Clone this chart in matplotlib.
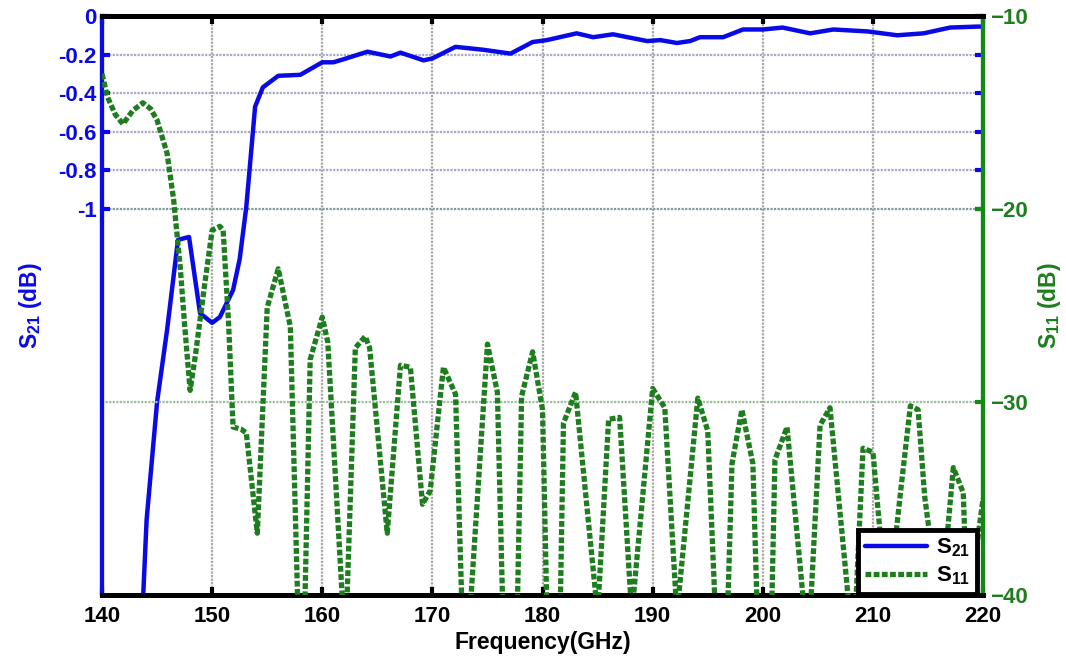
import numpy as np
import matplotlib
matplotlib.use("Agg")
import matplotlib.pyplot as plt
import matplotlib as mpl

# S21 (left axis, dB)
s21_freq = [143.5, 143.75, 144.05, 145.0, 145.9, 146.9, 147.9, 148.9, 150.0, 150.7,
            151.9, 152.5, 153.1, 153.9, 154.6, 156.0, 158.0, 160.0, 161.0, 161.9,
            164.1, 166.2, 167.1, 169.2, 170.0, 172.1, 174.6, 177.1, 179.1, 180.4,
            183.1, 184.6, 186.4, 189.5, 190.7, 192.2, 193.4, 194.3, 196.4, 198.2,
            200.0, 201.8, 204.3, 206.4, 209.5, 212.2, 214.6, 217.0, 219.5, 220.0]
s21_db = [-3.1, -2.99, -2.61, -2.0, -1.63, -1.16, -1.145, -1.54, -1.59, -1.56,
          -1.42, -1.26, -0.99, -0.47, -0.37, -0.31, -0.305, -0.24, -0.24, -0.225,
          -0.185, -0.21, -0.19, -0.23, -0.22, -0.16, -0.175, -0.195, -0.135, -0.125,
          -0.09, -0.11, -0.095, -0.13, -0.125, -0.14, -0.13, -0.11, -0.11, -0.07,
          -0.07, -0.06, -0.09, -0.07, -0.08, -0.10, -0.09, -0.06, -0.055, -0.055]

# S11 (right axis, dB)
s11_freq = [140.0, 140.5, 141.2, 141.9, 142.8, 143.7, 144.4, 145.0, 145.9, 146.5,
            147.1, 147.5, 148.0, 148.5, 149.3, 150.0, 150.7, 151.0, 151.5, 151.9,
            152.6, 153.1, 154.1, 155.0, 156.0, 157.1, 157.8, 158.4, 158.9, 160.0,
            160.5, 161.9, 162.2, 163.0, 163.9, 164.3, 165.9, 167.1, 168.0, 169.1,
            169.8, 171.0, 172.1, 172.7, 173.4, 175.0, 175.9, 176.4, 177.7, 178.1,
            179.1, 180.0, 180.4, 181.6, 181.9, 183.0, 185.0, 186.0, 187.0, 188.1,
            190.0, 191.1, 192.2, 194.1, 195.0, 195.7, 196.8, 197.2, 198.1, 199.1,
            199.5, 200.8, 201.1, 202.2, 203.8, 204.3, 205.2, 206.1, 207.9, 208.4,
            209.1, 210.0, 211.3, 212.5, 213.4, 214.1, 214.7, 216.1, 217.3, 218.2,
            218.6, 220.0]
s11_db = [-13.0, -14.2, -15.1, -15.6, -14.9, -14.5, -14.8, -15.4, -17.1, -19.5,
          -23.0, -26.0, -29.4, -27.5, -24.0, -21.1, -20.9, -21.1, -26.0, -31.3,
          -31.4, -31.6, -36.8, -25.1, -23.1, -26.1, -41.0, -41.0, -27.8, -25.6,
          -26.9, -41.0, -41.0, -27.2, -26.6, -27.2, -36.8, -28.1, -28.2, -35.3,
          -34.6, -28.2, -29.6, -41.0, -41.0, -27.0, -29.5, -41.0, -41.0, -29.7,
          -27.4, -30.4, -41.0, -41.0, -31.1, -29.5, -41.0, -30.9, -30.8, -41.0,
          -29.3, -30.3, -41.0, -29.8, -31.5, -41.0, -41.0, -33.2, -30.4, -33.2,
          -41.0, -41.0, -33.0, -31.3, -41.0, -41.0, -31.2, -30.3, -41.0, -41.0,
          -32.4, -32.6, -41.0, -34.7, -30.2, -30.4, -34.9, -41.0, -33.4, -34.7,
          -41.0, -35.0]

x_ticks = [140, 150, 160, 170, 180, 190, 200, 210, 220]
left_ticks = [0, -0.2, -0.4, -0.6, -0.8, -1]
left_ticklabels = ['0', '-0.2', '-0.4', '-0.6', '-0.8', '-1']
right_ticks = [-10, -20, -30, -40]

blue = '#0a0ae6'
green = '#1e7d1e'
spine_green = '#138a13'

mpl.rcParams['font.family'] = ['Liberation Sans', 'DejaVu Sans']
mpl.rcParams['font.weight'] = 'bold'
mpl.rcParams['mathtext.fontset'] = 'custom'
mpl.rcParams['mathtext.rm'] = 'Liberation Sans:bold'
mpl.rcParams['mathtext.bf'] = 'Liberation Sans:bold'
mpl.rcParams['mathtext.default'] = 'bf'

fig = plt.figure(figsize=(10.66, 6.6), dpi=100)
ax1 = fig.add_axes([0.0957, 0.0985, 0.8265, 0.8773])
ax2 = ax1.twinx()

# grid lines
for xv in x_ticks[1:-1]:
    ax1.axvline(xv, color='#a8a8a8', lw=1.6, ls=(0, (1, 0.6)), zorder=0)
for yv in left_ticks[1:]:
    ax1.axhline(yv, color='#a8a8c8' if yv != -1 else '#7f9a9a', lw=1.6,
                ls=(0, (1, 0.6)), zorder=0)
ax2.axhline(-30, color='#9cbf9c', lw=1.6, ls=(0, (1, 0.6)), zorder=0)

l1, = ax1.plot(s21_freq, s21_db, color=blue, lw=3.2, solid_capstyle='round',
               solid_joinstyle='round', zorder=3)
l2, = ax2.plot(s11_freq, s11_db, color=green, lw=3.8, ls=(0, (1.1, 0.45)), zorder=3)

ax1.set_xlim(140, 220)
ax1.set_ylim(-3, 0)
ax2.set_ylim(-40, -10)

ax1.set_xticks(x_ticks)
ax1.set_yticks(left_ticks)
ax1.set_yticklabels(left_ticklabels)
ax2.set_yticks(right_ticks)

ax1.tick_params(axis='x', direction='in', top=True, bottom=True, length=6, width=3,
                color='k', labelsize=16, pad=8)
ax1.tick_params(axis='y', direction='in', left=True, right=True, length=6, width=3,
                color=blue, labelcolor=blue, labelsize=16, pad=4)
ax2.tick_params(axis='y', direction='in', length=6, width=3, color=spine_green,
                labelcolor=green, labelsize=16, pad=5)

for ax in (ax1, ax2):
    ax.spines['top'].set_color('k')
    ax.spines['top'].set_linewidth(3.5)
    ax.spines['bottom'].set_color('k')
    ax.spines['bottom'].set_linewidth(3.5)
    ax.spines['left'].set_color(blue)
    ax.spines['left'].set_linewidth(3)
    ax.spines['right'].set_color(spine_green)
    ax.spines['right'].set_linewidth(3)

ax1.set_xlabel('Frequency(GHz)', fontsize=16.5, fontweight='bold', labelpad=3)
ax1.set_ylabel('S$_{21}$ (dB)', fontsize=16.5, color=blue, fontweight='bold', labelpad=10)
ax2.set_ylabel('S$_{11}$ (dB)', fontsize=16.5, color=green, fontweight='bold', labelpad=6)

leg = ax2.legend([l1, l2], ['S$_{21}$', 'S$_{11}$'], loc='lower right',
                 bbox_to_anchor=(0.994, 0.0), fontsize=16, fancybox=False,
                 framealpha=1, edgecolor='k', borderaxespad=0.05, handlelength=2.8,
                 handletextpad=0.4, labelspacing=0.25, borderpad=0.3)
leg.get_frame().set_linewidth(3.5)
leg.set_zorder(10)

fig.savefig('out.png', dpi=100)
